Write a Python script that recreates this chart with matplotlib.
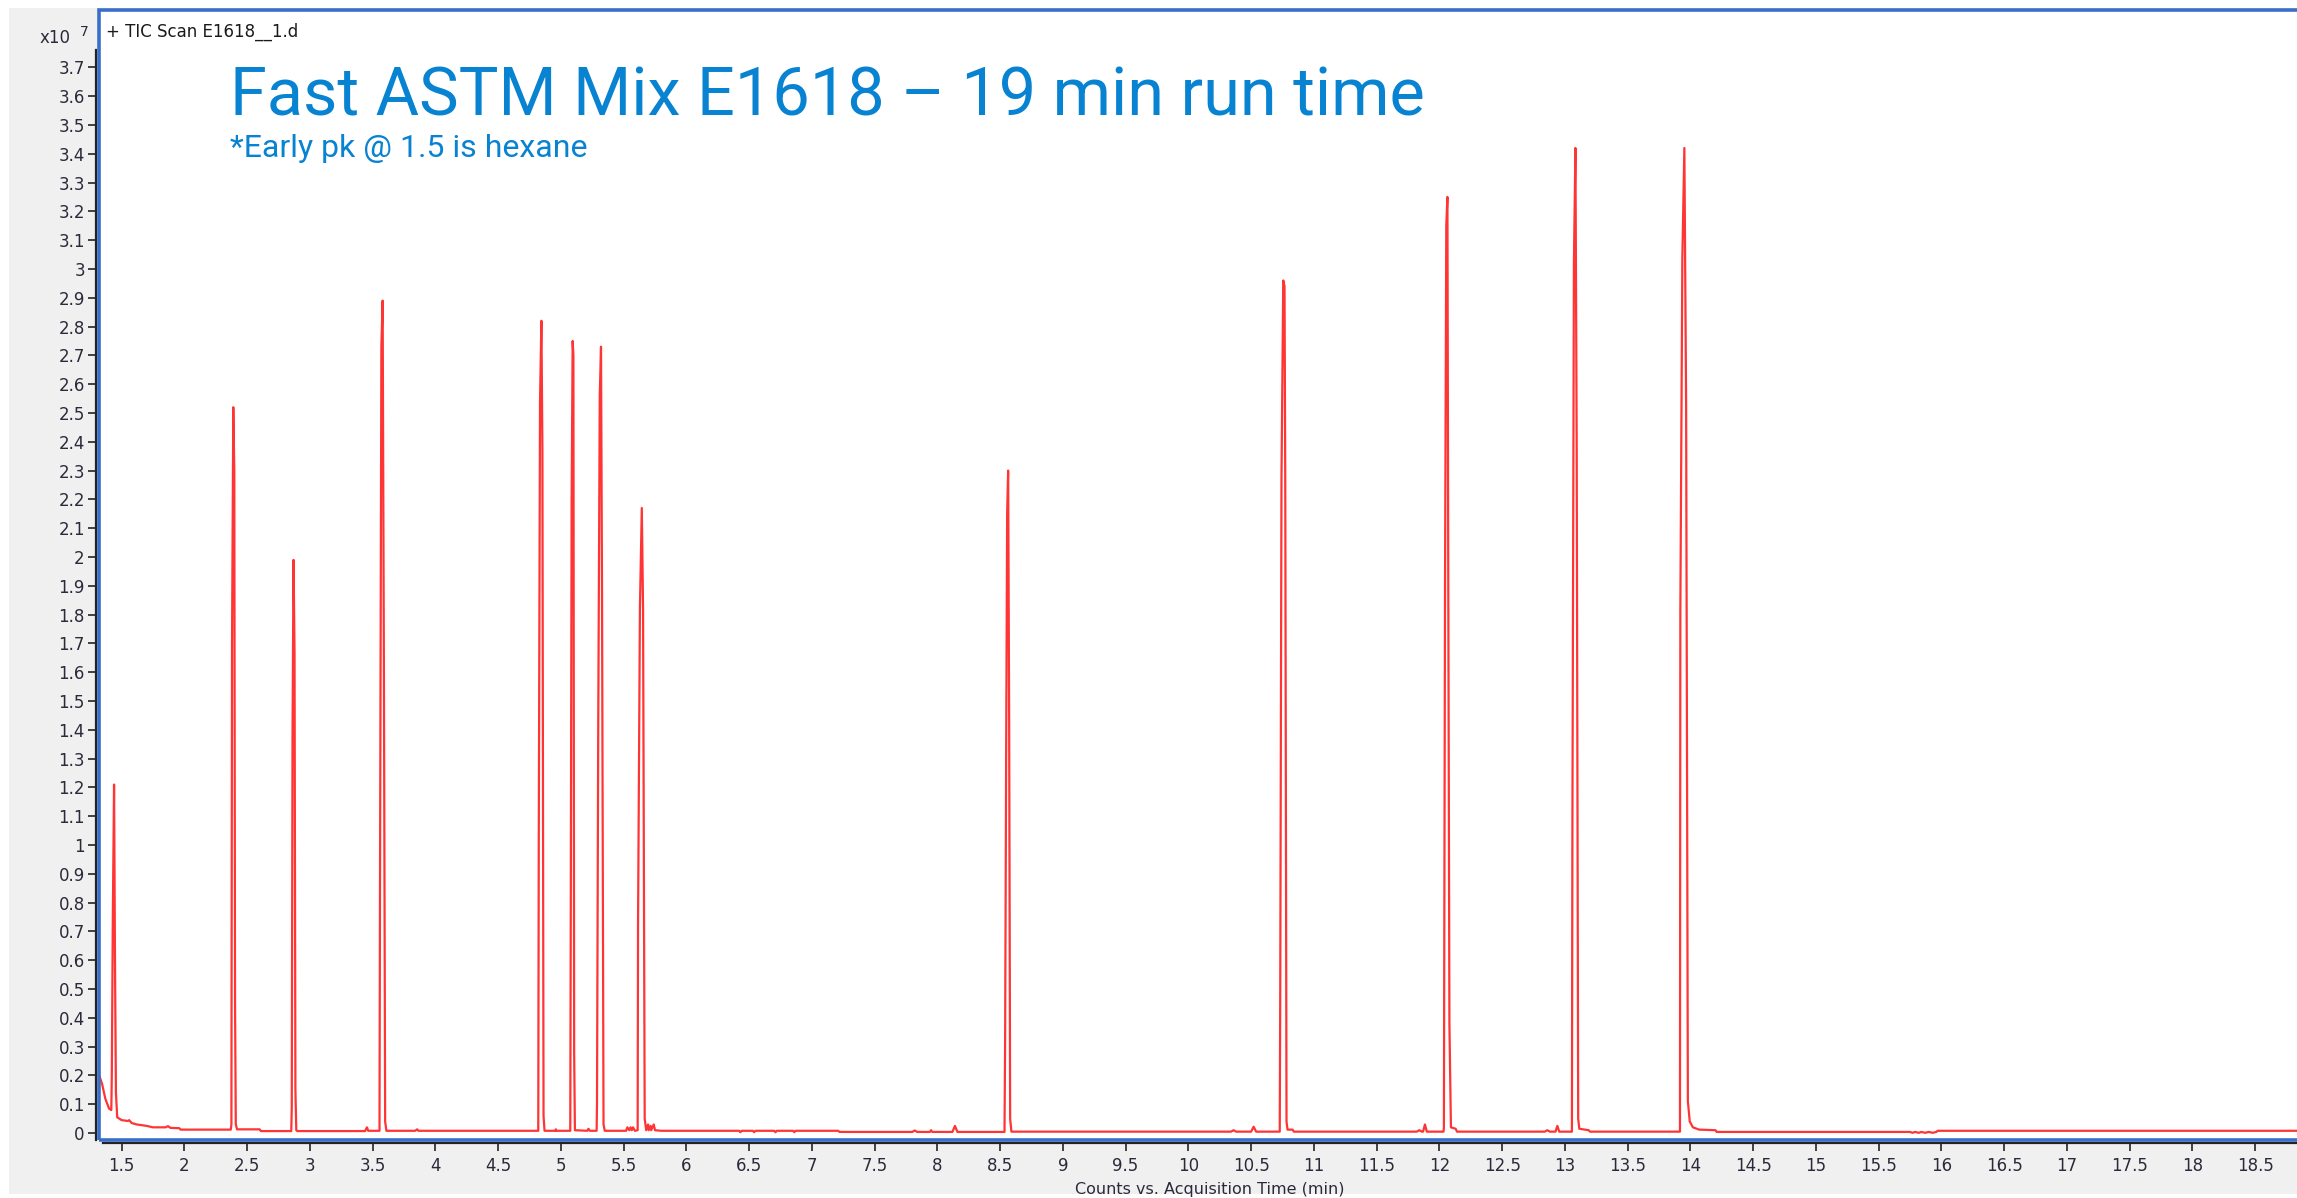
import numpy as np
import matplotlib.pyplot as plt
from matplotlib.patches import Rectangle

# TIC trace, retention time (min) vs counts (x10^7)
rt_min = [
    # hexane + solvent tail
    1.322, 1.345, 1.37, 1.40, 1.418, 1.422, 1.430, 1.440, 1.447, 1.455, 1.465,
    1.50, 1.55, 1.56, 1.58, 1.62, 1.70, 1.75, 1.85, 1.87, 1.89, 1.96, 1.97, 2.37,
    # 2.4
    2.375, 2.380, 2.390, 2.398, 2.404, 2.41, 2.42, 2.60, 2.61,
    # 2.87
    2.852, 2.856, 2.862, 2.870, 2.878, 2.885, 2.892, 2.90, 3.44, 3.455, 3.465,
    # 3.58
    3.555, 3.559, 3.570, 3.580, 3.590, 3.600, 3.61, 3.84, 3.855, 3.865,
    # 4.84
    4.82, 4.824, 4.834, 4.845, 4.853, 4.862, 4.87, 4.955, 4.96, 4.965,
    # 5.09
    5.075, 5.078, 5.086, 5.094, 5.100, 5.106, 5.112, 5.21, 5.22, 5.23,
    # 5.31
    5.285, 5.288, 5.298, 5.310, 5.320, 5.328, 5.340, 5.35,
    5.52, 5.53, 5.545, 5.555, 5.565, 5.575, 5.59,
    # 5.65
    5.612, 5.615, 5.630, 5.645, 5.655, 5.668, 5.68,
    5.695, 5.70, 5.715, 5.72, 5.74, 5.75, 5.80,
    6.42, 6.43, 6.44, 6.53, 6.54, 6.55, 6.70, 6.71, 6.72, 6.85, 6.86, 6.87,
    7.21, 7.22, 7.80, 7.82, 7.84, 7.94, 7.95, 7.96, 8.12, 8.14, 8.16,
    # 8.56
    8.535, 8.540, 8.548, 8.556, 8.564, 8.572, 8.580, 8.59,
    10.34, 10.36, 10.38, 10.50, 10.52, 10.54,
    # 10.76
    10.728, 10.732, 10.742, 10.756, 10.766, 10.772, 10.782, 10.79, 10.83, 10.84,
    11.82, 11.84, 11.86, 11.87, 11.885, 11.90,
    # 12.06
    12.033, 12.036, 12.045, 12.055, 12.064, 12.071, 12.080, 12.092, 12.13, 12.14,
    12.84, 12.86, 12.88, 12.925, 12.94, 12.955,
    # 13.08
    13.056, 13.060, 13.072, 13.084, 13.094, 13.106, 13.115, 13.19, 13.20,
    # 13.95
    13.917, 13.920, 13.936, 13.952, 13.966, 13.980, 13.995, 14.02, 14.07, 14.20, 14.21,
    15.75, 15.77, 15.79, 15.82, 15.84, 15.87, 15.90, 15.93, 15.96, 15.97,
    18.937,
]
tic_e7 = [
    0.20, 0.17, 0.12, 0.085, 0.08, 0.20, 0.74, 1.21, 0.62, 0.14, 0.055,
    0.045, 0.042, 0.045, 0.035, 0.03, 0.025, 0.02, 0.02, 0.024, 0.018, 0.017, 0.012, 0.012,
    0.03, 1.70, 2.52, 2.30, 0.45, 0.03, 0.013, 0.013, 0.007,
    0.007, 0.09, 1.38, 1.99, 1.67, 0.15, 0.01, 0.007, 0.007, 0.02, 0.008,
    0.008, 0.85, 2.73, 2.89, 1.62, 0.04, 0.008, 0.008, 0.013, 0.008,
    0.008, 1.01, 2.54, 2.82, 2.37, 0.06, 0.008, 0.008, 0.013, 0.008,
    0.008, 0.56, 2.20, 2.75, 2.70, 0.28, 0.01, 0.008, 0.015, 0.008,
    0.008, 0.10, 1.43, 2.56, 2.73, 1.88, 0.03, 0.008,
    0.008, 0.02, 0.01, 0.02, 0.01, 0.02, 0.008,
    0.01, 0.72, 1.82, 2.17, 1.82, 0.05, 0.01,
    0.03, 0.01, 0.025, 0.01, 0.03, 0.01, 0.008,
    0.008, 0.003, 0.008, 0.008, 0.003, 0.008, 0.008, 0.003, 0.008, 0.008, 0.003, 0.008,
    0.008, 0.004, 0.004, 0.009, 0.004, 0.004, 0.01, 0.004, 0.004, 0.025, 0.004,
    0.004, 0.33, 1.30, 2.15, 2.30, 1.43, 0.05, 0.005,
    0.005, 0.01, 0.005, 0.005, 0.022, 0.005,
    0.005, 0.48, 2.28, 2.96, 2.94, 2.26, 0.04, 0.012, 0.012, 0.005,
    0.005, 0.01, 0.005, 0.005, 0.03, 0.005,
    0.005, 0.02, 1.90, 3.15, 3.25, 1.89, 0.38, 0.02, 0.015, 0.005,
    0.005, 0.01, 0.005, 0.005, 0.025, 0.005,
    0.005, 1.08, 3.02, 3.42, 2.40, 0.05, 0.015, 0.01, 0.005,
    0.005, 1.81, 3.04, 3.42, 2.53, 0.11, 0.04, 0.02, 0.012, 0.01, 0.004,
    0.004, 0.001, 0.004, 0.001, 0.004, 0.001, 0.004, 0.001, 0.004, 0.008,
    0.008,
]

xticks = np.arange(1.5, 18.51, 0.5)
yticks = np.round(np.arange(0, 3.71, 0.1), 1)

W, H = 2297, 1198
fig = plt.figure(figsize=(W / 100, H / 100), dpi=100)
fig.patch.set_facecolor('white')
fig.add_artist(Rectangle((9 / W, 4 / H), 1, 1 - 12 / H, transform=fig.transFigure,
                         facecolor='#f0f0f0', edgecolor='none', zorder=-10))

# axes box in pixels: left 99, right beyond the image, top 10, bottom 1140
ax = fig.add_axes([99 / W, 58 / H, (2310 - 99) / W, (1140 - 10) / H])
ax.set_facecolor('white')
ax.plot(rt_min, tic_e7, color='#ff1010', lw=1.6, alpha=0.85)
ax.set_xlim(1.320, 18.937)
ax.set_ylim(-0.024, 3.899)

# blue frame
ax.add_patch(Rectangle((0, 0), 1, 1, transform=ax.transAxes, fill=False,
                       edgecolor='#3a6fc9', lw=2.6, clip_on=False, zorder=5))
ax.spines['top'].set_visible(False)
ax.spines['right'].set_visible(False)
for s in ['left', 'bottom']:
    ax.spines[s].set_color('#222222')
    ax.spines[s].set_linewidth(1.6)
    ax.spines[s].set_position(('outward', 2.2))
ax.spines['left'].set_bounds(-0.024, 3.76)
ax.spines['bottom'].set_bounds(1.35, 18.937)

ax.set_xticks(xticks)
ax.set_xticklabels(['%g' % v for v in xticks])
ax.set_yticks(yticks)
ax.set_yticklabels(['%g' % v for v in yticks])
ax.tick_params(direction='out', length=6, width=1.3, color='#333333',
               labelsize=12, labelcolor='#2a2a3a', pad=2)
ax.tick_params(axis='x', pad=4)

fig.text(1210 / W, 1 - 1194 / H, 'Counts vs. Acquisition Time (min)', ha='center',
         va='baseline', fontsize=11.5, color='#2a2a3a')
fig.text(40 / W, 1 - 43 / H, 'x10', fontsize=12, color='#2a2a3a', va='baseline')
fig.text(80 / W, 1 - 36 / H, '7', fontsize=10, color='#2a2a3a', va='baseline')
fig.text(106 / W, 1 - 37 / H, '+ TIC Scan E1618__1.d', fontsize=12,
         color='#1a1a1a', va='baseline')

fig.text(230 / W, 1 - 115 / H, 'Fast ASTM Mix E1618 \u2013 19 min run time',
         fontsize=48, family=['Roboto', 'DejaVu Sans'], color='#0883d2', va='baseline')
fig.text(230 / W, 1 - 157 / H, '*Early pk @ 1.5 is hexane',
         fontsize=23, family=['Roboto', 'DejaVu Sans'], color='#0883d2', va='baseline')

fig.savefig('out.png', dpi=100, facecolor=fig.get_facecolor())
